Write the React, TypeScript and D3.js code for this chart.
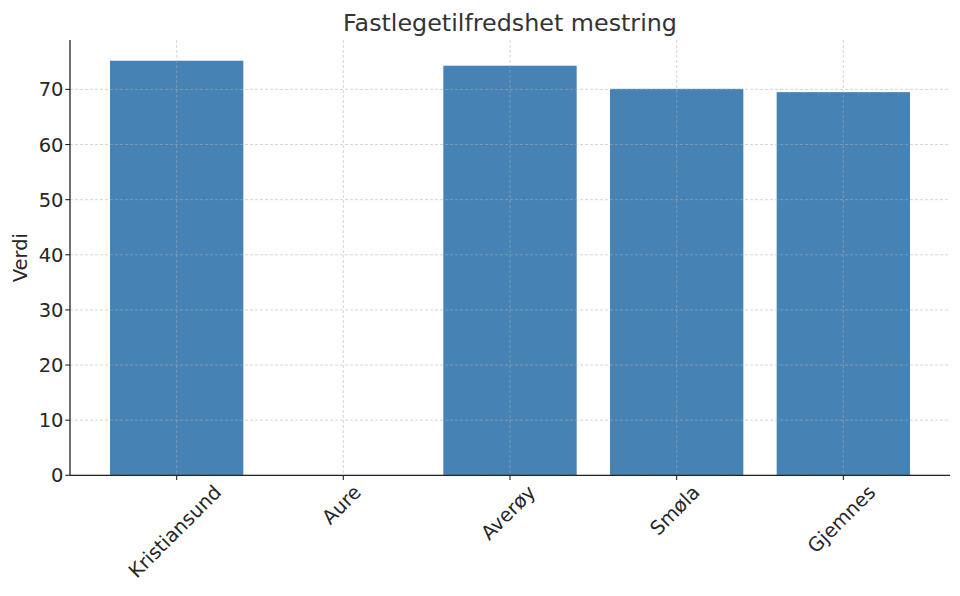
import React, { useEffect, useRef } from 'react';
import * as d3 from 'd3';

// Chart data
const categories = ['Kristiansund', 'Aure', 'Averøy', 'Smøla', 'Gjemnes'];
const values: (number | null)[] = [75.2, null, 74.3, 70.1, 69.5];
const yTicks = [0, 10, 20, 30, 40, 50, 60, 70];

const App: React.FC = () => {
    const chartRef = useRef<SVGSVGElement>(null);

    useEffect(() => {
        if (!chartRef.current) return;

        d3.select(chartRef.current).selectAll('*').remove();

        const width = 960;
        const height = 596;
        const margin = { top: 40, right: 10, bottom: 120.7, left: 70 };
        const font = 'DejaVu Sans, sans-serif';
        const fs = 19.5;

        const svg = d3.select(chartRef.current)
            .attr('width', width)
            .attr('height', height);

        const innerW = width - margin.left - margin.right;
        const innerH = height - margin.top - margin.bottom;

        // Scales (matplotlib-like padding around categories)
        const n = categories.length;
        const xLin = d3.scaleLinear()
            .domain([-0.64, n - 1 + 0.64])
            .range([margin.left, margin.left + innerW]);
        const barWidth = xLin(0.8) - xLin(0);

        const maxV = d3.max(values, d => d ?? 0) as number;
        const yScale = d3.scaleLinear()
            .domain([0, maxV * 1.05])
            .range([margin.top + innerH, margin.top]);

        // Bars
        svg.append('g')
            .selectAll('rect')
            .data(categories.map((c, i) => ({ c, i, v: values[i] })).filter(d => d.v !== null))
            .enter()
            .append('rect')
            .attr('x', d => xLin(d.i) - barWidth / 2)
            .attr('y', d => yScale(d.v as number))
            .attr('width', barWidth)
            .attr('height', d => yScale(0) - yScale(d.v as number))
            .attr('fill', '#4682b4');

        // Grid lines (drawn on top of the bars)
        const grid = svg.append('g')
            .attr('stroke', '#b0b0b0')
            .attr('stroke-opacity', 0.65)
            .attr('stroke-width', 0.8)
            .attr('stroke-dasharray', '3,2');

        grid.selectAll('line.hgrid')
            .data(yTicks)
            .enter()
            .append('line')
            .attr('x1', margin.left)
            .attr('x2', margin.left + innerW)
            .attr('y1', d => yScale(d))
            .attr('y2', d => yScale(d));

        grid.selectAll('line.vgrid')
            .data(categories.map((_, i) => i))
            .enter()
            .append('line')
            .attr('x1', d => xLin(d))
            .attr('x2', d => xLin(d))
            .attr('y1', margin.top)
            .attr('y2', margin.top + innerH);

        // Spines
        svg.append('line')
            .attr('x1', margin.left)
            .attr('x2', margin.left)
            .attr('y1', margin.top)
            .attr('y2', margin.top + innerH)
            .attr('stroke', '#222')
            .attr('stroke-width', 1.3);
        svg.append('line')
            .attr('x1', margin.left)
            .attr('x2', margin.left + innerW)
            .attr('y1', margin.top + innerH)
            .attr('y2', margin.top + innerH)
            .attr('stroke', '#222')
            .attr('stroke-width', 1.3);

        // Y ticks
        const yt = svg.append('g');
        yt.selectAll('line')
            .data(yTicks)
            .enter()
            .append('line')
            .attr('x1', margin.left - 4.7)
            .attr('x2', margin.left)
            .attr('y1', d => yScale(d))
            .attr('y2', d => yScale(d))
            .attr('stroke', '#222')
            .attr('stroke-width', 1.1);
        yt.selectAll('text')
            .data(yTicks)
            .enter()
            .append('text')
            .attr('x', margin.left - 6.5)
            .attr('y', d => yScale(d))
            .attr('dy', '0.36em')
            .attr('text-anchor', 'end')
            .attr('font-family', font)
            .attr('font-size', `${fs}px`)
            .attr('fill', '#262626')
            .text(d => d);

        // X ticks
        const xt = svg.append('g');
        xt.selectAll('line')
            .data(categories.map((_, i) => i))
            .enter()
            .append('line')
            .attr('x1', d => xLin(d))
            .attr('x2', d => xLin(d))
            .attr('y1', margin.top + innerH)
            .attr('y2', margin.top + innerH + 4.7)
            .attr('stroke', '#222')
            .attr('stroke-width', 1.1);

        // Rotated x labels: bbox centred on tick, top of bbox under the tick
        const labelTop = margin.top + innerH + 8;
        categories.forEach((c, i) => {
            const t = xt.append('text')
                .attr('text-anchor', 'middle')
                .attr('dominant-baseline', 'central')
                .attr('dy', '-0.12em')
                .attr('font-family', font)
                .attr('font-size', `${fs}px`)
                .attr('fill', '#262626')
                .text(c);
            const w = (t.node() as SVGTextElement).getComputedTextLength();
            const h = fs * 1.05;
            const bboxH = (w + h) * Math.SQRT1_2;
            const cx = xLin(i);
            const cy = labelTop + bboxH / 2;
            t.attr('transform', `translate(${cx},${cy}) rotate(-45)`);
        });

        // Title
        svg.append('text')
            .attr('x', margin.left + innerW / 2)
            .attr('y', 30.7)
            .attr('text-anchor', 'middle')
            .attr('font-family', font)
            .attr('font-size', '23.8px')
            .attr('fill', '#333')
            .text('Fastlegetilfredshet mestring');

        // Y label
        svg.append('text')
            .attr('transform', `translate(27,${margin.top + innerH / 2}) rotate(-90)`)
            .attr('text-anchor', 'middle')
            .attr('font-family', font)
            .attr('font-size', `${fs}px`)
            .attr('fill', '#262626')
            .text('Verdi');
    }, []);

    return (
        <div style={{ position: 'absolute', left: 0, top: 0, background: '#fff' }}>
            <svg ref={chartRef} width={960} height={596} style={{ display: 'block' }}></svg>
        </div>
    );
};

export default App;
